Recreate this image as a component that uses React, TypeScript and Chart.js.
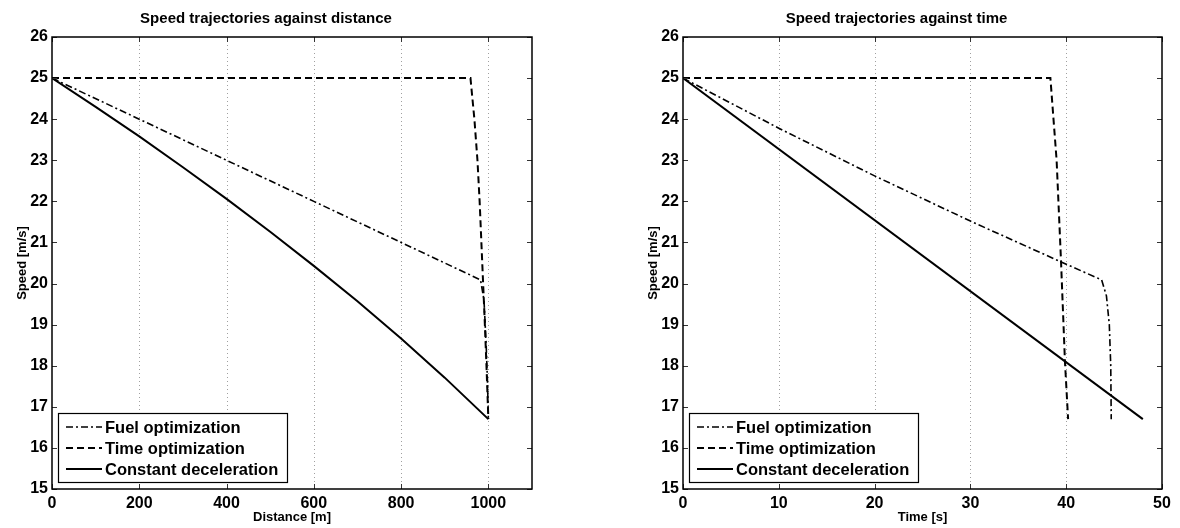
import React, { useEffect, useRef } from "react";
import { Chart, registerables } from "chart.js";

Chart.register(...registerables);

const FONT = '"Liberation Sans", Arial, Helvetica, sans-serif';

// ---------- Data: speed vs distance ----------
const distFuelX = [0, 200, 400, 600, 800, 982, 990, 995, 998, 1000];
const distFuelY = [25, 24, 23, 22, 21, 20.09, 19.6, 18.5, 17.6, 16.7];

const distTimeX = [0, 959, 968, 975, 980, 984, 988, 992, 996, 1000];
const distTimeY = [25, 25, 24, 23, 22, 21, 20, 19, 17.9, 16.7];

const distConstX = [0, 100, 200, 300, 400, 500, 600, 700, 800, 900, 1000];
const distConstY = [25, 24.3, 23.58, 22.83, 22.06, 21.26, 20.43, 19.57, 18.66, 17.71, 16.7];

// ---------- Data: speed vs time ----------
const timeFuelX = [0, 10, 20, 30, 40, 43.7, 44.2, 44.5, 44.65, 44.7];
const timeFuelY = [25, 23.78, 22.62, 21.52, 20.47, 20.09, 19.7, 19.0, 18.0, 16.7];

const timeTimeX = [0, 38.35, 39.0, 39.45, 39.87, 40.2];
const timeTimeY = [25, 25, 23.0, 20.6, 18.1, 16.7];

const timeConstX = [0, 48];
const timeConstY = [25, 16.7];

// ---------- Axes ----------
const distTicks = [0, 200, 400, 600, 800, 1000];
const timeTicks = [0, 10, 20, 30, 40, 50];
const speedTicks = [15, 16, 17, 18, 19, 20, 21, 22, 23, 24, 25, 26];

const seriesLabels = ["Fuel optimization", "Time optimization", "Constant deceleration"];

const zip = (xs: number[], ys: number[]) => xs.map((x, i) => ({ x, y: ys[i] }));

const styles = [
  { borderDash: [7, 3, 2, 3], borderWidth: 1.6 },
  { borderDash: [7, 4], borderWidth: 2 },
  { borderDash: [] as number[], borderWidth: 2 },
];

const framePlugin = {
  id: "frame",
  beforeDatasetsDraw(chart: any) {
    const { ctx, chartArea: a, scales } = chart;
    const xs = scales.x;
    ctx.save();
    ctx.strokeStyle = "#a0a0a0";
    ctx.lineWidth = 1;
    ctx.setLineDash([1, 3]);
    xs.ticks.forEach((t: any) => {
      const px = Math.round(xs.getPixelForValue(t.value)) + 0.5;
      if (px <= a.left + 1 || px >= a.right - 1) return;
      ctx.beginPath();
      ctx.moveTo(px, a.top);
      ctx.lineTo(px, a.bottom);
      ctx.stroke();
    });
    ctx.restore();
  },
  afterDatasetsDraw(chart: any) {
    const { ctx, chartArea: a, scales } = chart;
    const xs = scales.x;
    const ys = scales.y;
    ctx.save();
    ctx.setLineDash([]);
    ctx.strokeStyle = "#333";
    ctx.lineWidth = 1;
    const tl = 5;
    xs.ticks.forEach((t: any) => {
      const px = Math.round(xs.getPixelForValue(t.value)) + 0.5;
      ctx.beginPath();
      ctx.moveTo(px, a.bottom);
      ctx.lineTo(px, a.bottom - tl);
      ctx.moveTo(px, a.top);
      ctx.lineTo(px, a.top + tl);
      ctx.stroke();
    });
    ys.ticks.forEach((t: any) => {
      const py = Math.round(ys.getPixelForValue(t.value)) + 0.5;
      ctx.beginPath();
      ctx.moveTo(a.left, py);
      ctx.lineTo(a.left + tl, py);
      ctx.moveTo(a.right, py);
      ctx.lineTo(a.right - tl, py);
      ctx.stroke();
    });
    ctx.strokeStyle = "#000";
    ctx.lineWidth = 1.5;
    ctx.strokeRect(a.left, a.top, a.right - a.left, a.bottom - a.top);

    // legend (inside, lower-left)
    const ds = chart.data.datasets;
    const bx = a.left + 6;
    const by = a.top + 376;
    const bw = 229;
    const bh = 69;
    ctx.fillStyle = "#fff";
    ctx.fillRect(bx, by, bw, bh);
    ctx.strokeStyle = "#000";
    ctx.lineWidth = 1.2;
    ctx.strokeRect(bx + 0.5, by + 0.5, bw, bh);
    ctx.font = "bold 16.5px " + FONT;
    ctx.textBaseline = "middle";
    ctx.textAlign = "left";
    ds.forEach((d: any, i: number) => {
      const cy = by + 14 + i * 21;
      ctx.beginPath();
      ctx.setLineDash(d.borderDash || []);
      ctx.lineWidth = d.borderWidth;
      ctx.strokeStyle = "#000";
      ctx.moveTo(bx + 8, cy);
      ctx.lineTo(bx + 44, cy);
      ctx.stroke();
      ctx.setLineDash([]);
      ctx.fillStyle = "#000";
      ctx.fillText(d.label, bx + 47, cy + 1);
    });
    ctx.restore();
  },
};

type PanelProps = {
  title: string;
  xLabel: string;
  xMax: number;
  xTicks: number[];
  xs: number[][];
  ys: number[][];
  padL: number;
  padR: number;
  left: number;
};

function Panel(p: PanelProps) {
  const ref = useRef<HTMLCanvasElement | null>(null);
  useEffect(() => {
    if (!ref.current) return;
    const tickFont = { family: FONT, size: 16, weight: "bold" as const };
    const chart = new Chart(ref.current, {
      type: "line",
      data: {
        datasets: seriesLabels.map((label, i) => ({
          label,
          data: zip(p.xs[i], p.ys[i]),
          borderColor: "#000",
          backgroundColor: "#000",
          borderDash: styles[i].borderDash,
          borderWidth: styles[i].borderWidth,
          pointRadius: 0,
          tension: 0,
          fill: false,
        })),
      },
      options: {
        responsive: false,
        animation: false,
        devicePixelRatio: 1,
        layout: { padding: { left: p.padL, right: p.padR, top: 0, bottom: 0 } },
        plugins: {
          legend: { display: false },
          tooltip: { enabled: false },
          title: {
            display: true,
            text: p.title,
            color: "#000",
            font: { family: FONT, size: 15, weight: "bold" },
            padding: { top: 10, bottom: 9 },
          },
        },
        scales: {
          x: {
            type: "linear",
            min: 0,
            max: p.xMax,
            afterBuildTicks: (s: any) => {
              s.ticks = p.xTicks.map((v) => ({ value: v }));
            },
            afterFit: (s: any) => {
              s.height = 39;
            },
            grid: { display: false, drawTicks: false },
            border: { display: false },
            ticks: {
              color: "#000",
              font: tickFont,
              padding: 5,
              autoSkip: false,
              maxRotation: 0,
              callback: (v: any) => String(v),
            },
            title: {
              display: true,
              text: p.xLabel,
              color: "#000",
              font: { family: FONT, size: 13, weight: "bold" },
              padding: { top: 0, bottom: 3 },
            },
          },
          y: {
            type: "linear",
            min: 15,
            max: 26,
            afterBuildTicks: (s: any) => {
              s.ticks = speedTicks.map((v) => ({ value: v }));
            },
            afterFit: (s: any) => {
              s.width = 52;
            },
            grid: { display: false, drawTicks: false },
            border: { display: false },
            ticks: {
              color: "#000",
              font: tickFont,
              padding: 4,
              autoSkip: false,
              callback: (v: any) => String(v),
            },
            title: {
              display: true,
              text: "Speed [m/s]",
              color: "#000",
              font: { family: FONT, size: 13, weight: "bold" },
              padding: { top: 15, bottom: 0 },
            },
          },
        },
      },
      plugins: [framePlugin],
    } as any);
    return () => chart.destroy();
  }, []);
  return (
    <canvas
      ref={ref}
      width={590}
      height={528}
      style={{ position: "absolute", left: p.left, top: 0, width: 590, height: 528 }}
    />
  );
}

export default function App() {
  return (
    <div style={{ position: "fixed", left: 0, top: 0, width: 1180, height: 528, background: "#fff" }}>
      <Panel
        title="Speed trajectories against distance"
        xLabel="Distance [m]"
        xMax={1100}
        xTicks={distTicks}
        xs={[distFuelX, distTimeX, distConstX]}
        ys={[distFuelY, distTimeY, distConstY]}
        padL={0}
        padR={58}
        left={0}
      />
      <Panel
        title="Speed trajectories against time"
        xLabel="Time [s]"
        xMax={50}
        xTicks={timeTicks}
        xs={[timeFuelX, timeTimeX, timeConstX]}
        ys={[timeFuelY, timeTimeY, timeConstY]}
        padL={41}
        padR={18}
        left={590}
      />
    </div>
  );
}
